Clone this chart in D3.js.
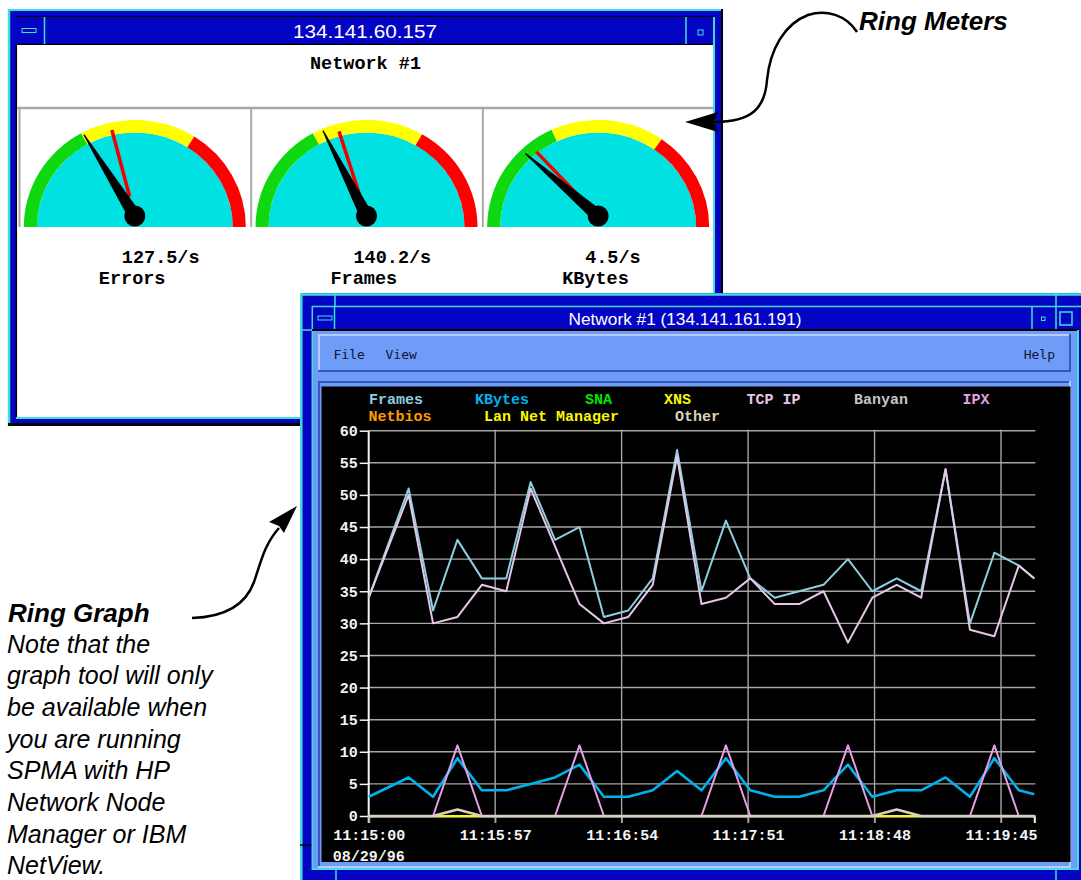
<!DOCTYPE html>
<html>
<head>
<meta charset="utf-8">
<script src="https://cdn.jsdelivr.net/npm/d3@7"></script>
<style>
body { margin: 0; background: #fff; }
svg { display: block; }
.mono { font-family: "Liberation Mono", "DejaVu Sans Mono", monospace; font-weight: bold; }
.note { font-family: "Liberation Sans", Arial, sans-serif; font-style: italic; fill: #000; }
</style>
</head>
<body>
<svg id="page"></svg>
<script>
const pageWidth = 1081;
const pageHeight = 880;

// ---- ring meter readings ----
const meterNames = ["Errors", "Frames", "KBytes"];
const meterReadings = ["127.5/s", "140.2/s", "4.5/s"];
const meterNeedle = [0.322, 0.35, 0.226];    // fraction of the dial, left = 0
const meterPeak = [0.417, 0.40, 0.256];      // red marker
const meterGreenEnd = [0.339, 0.339, 0.362];
const meterYellowEnd = [0.68, 0.667, 0.694];

// ---- ring graph data ----
const sampleTimes = ["11:15:00", "11:15:18", "11:15:29", "11:15:40", "11:15:51", "11:16:02", "11:16:13",
  "11:16:24", "11:16:35", "11:16:46", "11:16:57", "11:17:08", "11:17:19", "11:17:30", "11:17:41",
  "11:17:52", "11:18:03", "11:18:14", "11:18:25", "11:18:36", "11:18:47", "11:18:58", "11:19:09",
  "11:19:20", "11:19:31", "11:19:42", "11:19:53", "11:20:00"];
const framesValues = [34, 51, 32, 43, 37, 37, 52, 43, 45, 31, 32, 37, 57, 35, 46, 37, 34, 35, 36, 40, 35, 37, 35, 54, 30, 41, 39, 37];
const kbytesValues = [3, 6, 3, 9, 4, 4, 5, 6, 8, 3, 3, 4, 7, 4, 9, 4, 3, 3, 4, 8, 3, 4, 4, 6, 3, 9, 4, 3.4];
const snaValues = [0, 0, 0, 0, 0, 0, 0, 0, 0, 0, 0, 0, 0, 0, 0, 0, 0, 0, 0, 0, 0, 0, 0, 0, 0, 0, 0, 0];
const xnsValues = [0, 0, 0, 0, 0, 0, 0, 0, 0, 0, 0, 0, 0, 0, 0, 0, 0, 0, 0, 0, 0, 0, 0, 0, 0, 0, 0, 0];
const tcpIpValues = [34, 50, 30, 31, 36, 35, 51, 42, 33, 30, 31, 36, 56, 33, 34, 37, 33, 33, 35, 27, 34, 36, 34, 54, 29, 28, 39, 37];
const banyanValues = [0, 0, 0, 0, 0, 0, 0, 0, 0, 0, 0, 0, 0, 0, 0, 0, 0, 0, 0, 0, 0, 0, 0, 0, 0, 0, 0, 0];
const ipxValues = [0, 0, 0, 11, 0, 0, 0, 0, 11, 0, 0, 0, 0, 0, 11, 0, 0, 0, 0, 11, 0, 0, 0, 0, 0, 11, 0, 0];
const netbiosValues = [0, 0, 0, 0, 0, 0, 0, 0, 0, 0, 0, 0, 0, 0, 0, 0, 0, 0, 0, 0, 0, 0, 0, 0, 0, 0, 0, 0];
const lanNetManagerValues = [0, 0, 0, 0, 0, 0, 0, 0, 0, 0, 0, 0, 0, 0, 0, 0, 0, 0, 0, 0, 0, 0, 0, 0, 0, 0, 0, 0];
const otherValues = [0, 0, 0, 1, 0, 0, 0, 0, 0, 0, 0, 0, 0, 0, 0, 0, 0, 0, 0, 0, 0, 1, 0, 0, 0, 0, 0, 0];

const seriesNames = ["Frames", "KBytes", "SNA", "XNS", "TCP IP", "Banyan", "IPX", "Netbios", "Lan Net Manager", "Other"];
const seriesValues = [framesValues, kbytesValues, snaValues, xnsValues, tcpIpValues, banyanValues,
  ipxValues, netbiosValues, lanNetManagerValues, otherValues];
const seriesColors = ["#8ccfe0", "#00b2ee", "#00e400", "#f8f800", "#e6c6e6", "#c4c4c4",
  "#e4a0e4", "#ff9a00", "#f8f800", "#dcd0bc"];

const yTickValues = [0, 5, 10, 15, 20, 25, 30, 35, 40, 45, 50, 55, 60];
const timeTickLabels = ["11:15:00", "11:15:57", "11:16:54", "11:17:51", "11:18:48", "11:19:45"];
const dateLabel = "08/29/96";

// colours of the window chrome
const frameBlue = "#0404c4";
const frameCyan = "#3ee0d4";
const clientBlue = "#6e9cf7";
const faceCyan = "#00e2e2";

var svg = d3.select("#page").attr("width", pageWidth).attr("height", pageHeight);
svg.append("rect").attr("width", pageWidth).attr("height", pageHeight).attr("fill", "#fff");

function hline(g, x1, x2, yy, color, w) {
  g.append("line").attr("x1", x1).attr("x2", x2).attr("y1", yy).attr("y2", yy)
    .attr("stroke", color).attr("stroke-width", w);
}
function vline(g, xx, y1, y2, color, w) {
  g.append("line").attr("x1", xx).attr("x2", xx).attr("y1", y1).attr("y2", y2)
    .attr("stroke", color).attr("stroke-width", w);
}
// raised (or sunken) panel
function bevel(g, x0, y0, w, h, fill, light, dark) {
  g.append("rect").attr("x", x0).attr("y", y0).attr("width", w).attr("height", h).attr("fill", fill);
  hline(g, x0, x0 + w, y0 + 1, light, 2);
  vline(g, x0 + 1, y0, y0 + h, light, 2);
  hline(g, x0, x0 + w, y0 + h - 1, dark, 2);
  vline(g, x0 + w - 1, y0, y0 + h, dark, 2);
}

/* =============== top window : ring meters =============== */
var meterWin = svg.append("g");
meterWin.append("rect").attr("x", 8).attr("y", 9).attr("width", 715).attr("height", 417).attr("fill", frameBlue);
hline(meterWin, 8, 723, 10, frameCyan, 2);
vline(meterWin, 9, 9, 426, frameCyan, 2.5);
hline(meterWin, 8, 723, 424.5, "#000", 3);
vline(meterWin, 722, 9, 426, "#000", 2);
// title bar
hline(meterWin, 16, 714, 16.5, "#000", 1);
hline(meterWin, 16, 714, 44.5, "#000", 1.5);
vline(meterWin, 44.5, 17, 44, frameCyan, 1.5);
vline(meterWin, 686, 17, 44, frameCyan, 1.5);
meterWin.append("rect").attr("x", 22).attr("y", 28.5).attr("width", 14).attr("height", 4)
  .attr("fill", frameBlue).attr("stroke", frameCyan).attr("stroke-width", 1);
meterWin.append("rect").attr("x", 698).attr("y", 30).attr("width", 5).attr("height", 5)
  .attr("fill", frameBlue).attr("stroke", frameCyan).attr("stroke-width", 1);
meterWin.append("text").attr("x", 365).attr("y", 38).attr("text-anchor", "middle")
  .attr("fill", "#fff").attr("font-family", "Liberation Sans, Arial, sans-serif")
  .attr("font-size", 19).attr("textLength", 144).attr("lengthAdjust", "spacingAndGlyphs")
  .text("134.141.60.157");
// client
meterWin.append("rect").attr("x", 17).attr("y", 45).attr("width", 696).attr("height", 372).attr("fill", "#fff");
vline(meterWin, 16.3, 45, 417, "#000", 1.5);
hline(meterWin, 16, 715, 418, frameCyan, 2);
vline(meterWin, 714, 17, 419, frameCyan, 2);
meterWin.append("text").attr("class", "mono").attr("x", 365.5).attr("y", 69)
  .attr("text-anchor", "middle").attr("font-size", 18.5).attr("fill", "#000").text("Network #1");

var meterBand = d3.scaleBand().domain(meterNames).range([19, 714]);
var dial = d3.scaleLinear().domain([0, 1]).range([-Math.PI / 2, Math.PI / 2]);
var dialDeg = d3.scaleLinear().domain([0, 1]).range([-90, 90]);
var ringOuter = 111, ringInner = 98;
var arc = d3.arc();

hline(meterWin, 17, 713, 108, "#a8a8a8", 2.5);
meterBand.domain().forEach(function(name) {
  vline(meterWin, meterBand(name) + 0.5, 108, 227, "#a8a8a8", 2);
});

var meters = meterWin.append("g");
meterNames.forEach(function(name, i) {
  const cx = meterBand(name) + meterBand.bandwidth() / 2;
  const face = meters.append("g").attr("transform", `translate(${cx},227) scale(1,0.965)`);
  face.append("path")
    .attr("d", arc({innerRadius: 0, outerRadius: ringInner, startAngle: dial(0), endAngle: dial(1)}))
    .attr("fill", faceCyan);
  const zones = [[0, meterGreenEnd[i], "#10d810"], [meterGreenEnd[i], meterYellowEnd[i], "#ffff00"],
    [meterYellowEnd[i], 1, "#ff0000"]];
  face.selectAll(".zone").data(zones).enter().append("path")
    .attr("d", z => arc({innerRadius: ringInner, outerRadius: ringOuter, startAngle: dial(z[0]), endAngle: dial(z[1])}))
    .attr("fill", z => z[2]);

  const pivot = meters.append("g").attr("transform", `translate(${cx},216)`);
  pivot.append("line").attr("x1", 0).attr("x2", 0).attr("y1", -20).attr("y2", -89)
    .attr("stroke", "#f00000").attr("stroke-width", 3.5)
    .attr("transform", `rotate(${dialDeg(meterPeak[i])})`);
  pivot.append("path").attr("d", "M-6.5,0 L-0.6,-96 L0.6,-96 L6.5,0 Z").attr("fill", "#000")
    .attr("transform", `rotate(${dialDeg(meterNeedle[i])})`);
  pivot.append("circle").attr("r", 10.5).attr("fill", "#000");

  meters.append("text").attr("class", "mono").attr("x", cx - 13).attr("y", 263)
    .attr("font-size", 18.5).text(meterReadings[i]);
  meters.append("text").attr("class", "mono").attr("x", cx - 36).attr("y", 284)
    .attr("font-size", 18.5).text(name);
});

/* =============== second window : ring graph =============== */
var graphWin = svg.append("g");
graphWin.append("rect").attr("x", 300).attr("y", 293).attr("width", 800).attr("height", 600).attr("fill", frameBlue);
hline(graphWin, 300, 1081, 294.5, frameCyan, 2.5);
vline(graphWin, 301.3, 293, 880, frameCyan, 2.5);
// corner marks of the frame
vline(graphWin, 335, 293, 306, frameCyan, 1.5);
vline(graphWin, 1056, 293, 306, frameCyan, 1.5);
hline(graphWin, 300, 312, 330, frameCyan, 1.5);
hline(graphWin, 300, 312, 845, "#000", 1.5);
vline(graphWin, 336, 870, 880, frameCyan, 1.5);
vline(graphWin, 1056, 870, 880, frameCyan, 1.5);
// title bar
hline(graphWin, 312, 1081, 306.5, frameCyan, 1.5);
vline(graphWin, 312.3, 306, 870, frameCyan, 1.5);
hline(graphWin, 312, 1079, 330, "#000", 2);
vline(graphWin, 334.5, 307, 329, frameCyan, 1.5);
vline(graphWin, 1032, 307, 329, frameCyan, 1.5);
vline(graphWin, 1056, 307, 329, frameCyan, 1.5);
graphWin.append("rect").attr("x", 318).attr("y", 316).attr("width", 14).attr("height", 4)
  .attr("fill", frameBlue).attr("stroke", frameCyan).attr("stroke-width", 1);
graphWin.append("rect").attr("x", 1041.5).attr("y", 317).attr("width", 3.5).attr("height", 3.5)
  .attr("fill", frameBlue).attr("stroke", frameCyan).attr("stroke-width", 1);
graphWin.append("rect").attr("x", 1060).attr("y", 312).attr("width", 12).attr("height", 13)
  .attr("fill", frameBlue).attr("stroke", frameCyan).attr("stroke-width", 1.5);
graphWin.append("text").attr("x", 685).attr("y", 325).attr("text-anchor", "middle")
  .attr("fill", "#fff").attr("font-family", "Liberation Sans, Arial, sans-serif")
  .attr("font-size", 16.5).attr("textLength", 233).attr("lengthAdjust", "spacingAndGlyphs")
  .text("Network #1 (134.141.161.191)");
// client area
graphWin.append("rect").attr("x", 313).attr("y", 331).attr("width", 764).attr("height", 538).attr("fill", clientBlue);
vline(graphWin, 1078, 330, 870, frameCyan, 2);
hline(graphWin, 312, 1079, 869, frameCyan, 2);
// menu bar
bevel(graphWin, 318, 334, 753, 38, clientBlue, "#b4cbff", "#3458c0");
graphWin.selectAll(".menu").data([["File", 333.5, "start"], ["View", 385.5, "start"], ["Help", 1055, "end"]])
  .enter().append("text")
  .attr("x", d => d[1]).attr("y", 358.5).attr("text-anchor", d => d[2])
  .attr("font-family", "DejaVu Sans Mono, monospace").attr("font-size", 13)
  .attr("fill", "#141438").text(d => d[0]);
// plot panel
bevel(graphWin, 318, 381, 753, 487, clientBlue, "#3458c0", "#b4cbff");
graphWin.append("rect").attr("x", 321.5).attr("y", 386.5).attr("width", 749).attr("height", 475.5).attr("fill", "#000");

var plot = graphWin.append("g");
var parseTime = d3.timeParse("%H:%M:%S");
var sampleDates = sampleTimes.map(parseTime);
var x = d3.scaleTime()
  .domain([parseTime("11:15:00"), parseTime("11:20:00")])
  .range([368.7, 1034.3]);
var y = d3.scaleLinear().domain([0, 60]).range([816, 430.7]);
var xLeft = x.range()[0], xRight = x.range()[1];

// grid
plot.selectAll(".hgrid").data(yTickValues).enter().append("line")
  .attr("x1", xLeft).attr("x2", xRight + 1)
  .attr("y1", d => y(d)).attr("y2", d => y(d))
  .attr("stroke", "#a6a6a6").attr("stroke-width", 1.4);
var timeTicks = timeTickLabels.map(parseTime);
plot.selectAll(".vgrid").data(timeTicks.slice(1)).enter().append("line")
  .attr("x1", d => x(d)).attr("x2", d => x(d))
  .attr("y1", y(60) - 1).attr("y2", y(0) + 7)
  .attr("stroke", "#a6a6a6").attr("stroke-width", 1.4);

// y axis
var yAxis = d3.axisLeft(y).tickValues(yTickValues).tickSize(9).tickPadding(2);
var yAxisG = plot.append("g").attr("transform", `translate(${xLeft},0)`).call(yAxis);
yAxisG.select(".domain").remove();
yAxisG.selectAll("line").attr("stroke", "#f4f4f4").attr("stroke-width", 1.5);
yAxisG.selectAll("text").attr("class", "mono").attr("fill", "#f4f4f4").attr("font-size", 15);
vline(plot, xLeft, y(60), y(0) + 7, "#f4f4f4", 2);

// x axis
var xAxis = d3.axisBottom(x).tickValues(timeTicks).tickFormat(d3.timeFormat("%H:%M:%S"))
  .tickSize(7).tickPadding(6);
var xAxisG = plot.append("g").attr("transform", `translate(0,${y(0)})`).call(xAxis);
xAxisG.select(".domain").attr("stroke", "#f4f4f4").attr("stroke-width", 2);
xAxisG.selectAll("line").attr("stroke", "#a6a6a6").attr("stroke-width", 1.4);
xAxisG.selectAll("text").attr("class", "mono").attr("fill", "#f4f4f4").attr("font-size", 15);
plot.append("text").attr("class", "mono").attr("x", xLeft).attr("y", 861)
  .attr("text-anchor", "middle").attr("fill", "#f4f4f4").attr("font-size", 15).text(dateLabel);

// series
var line = d3.line().x((d, i) => x(sampleDates[i])).y(d => y(d));
var seriesWidth = {"KBytes": 2.6, "Other": 2.6};
plot.selectAll(".series").data(seriesNames).enter().append("path")
  .attr("d", (d, i) => line(seriesValues[i]))
  .attr("fill", "none")
  .attr("stroke", (d, i) => seriesColors[i])
  .attr("stroke-width", d => seriesWidth[d] || 2)
  .attr("stroke-linejoin", "round");

// legend
var legendSlots = [[369, 400], [475, 400], [585, 400], [664, 400], [746.5, 400], [854, 400], [962.5, 400],
  [368.5, 417], [484, 417], [675, 417]];
plot.selectAll(".legend").data(seriesNames).enter().append("text")
  .attr("class", "mono")
  .attr("x", (d, i) => legendSlots[i][0]).attr("y", (d, i) => legendSlots[i][1])
  .attr("dominant-baseline", "central").attr("font-size", 15)
  .attr("fill", (d, i) => seriesColors[i]).text(d => d);

/* =============== annotations =============== */
var notes = svg.append("g");
notes.append("path")
  .attr("d", "M857,32 C846,15 826,9 808,15 C784,24 770,50 767,80 C765,108 752,122 714,122")
  .attr("fill", "none").attr("stroke", "#000").attr("stroke-width", 2.5);
notes.append("path").attr("d", "M685,122 L718,112 L714,122 L718,132 Z").attr("fill", "#000");
notes.append("text").attr("class", "note").attr("x", 859).attr("y", 30)
  .attr("font-size", 26).attr("font-weight", "bold").text("Ring Meters");

notes.append("path")
  .attr("d", "M192,618 C226,617 246,604 254,582 C261,562 264,545 279,528")
  .attr("fill", "none").attr("stroke", "#000").attr("stroke-width", 2.5);
notes.append("path").attr("d", "M297,506 L284,533 L279,526 L269,522 Z").attr("fill", "#000");
notes.append("text").attr("class", "note").attr("x", 8).attr("y", 621.5)
  .attr("font-size", 26).attr("font-weight", "bold").text("Ring Graph");
var noteLines = ["Note that the", "graph tool will only", "be available when", "you are running",
  "SPMA with HP", "Network Node", "Manager or IBM", "NetView."];
notes.selectAll(".noteLine").data(noteLines).enter().append("text")
  .attr("class", "note").attr("x", 7).attr("y", (d, i) => 652.5 + i * 31.7)
  .attr("font-size", 25).text(d => d);
</script>
</body>
</html>
